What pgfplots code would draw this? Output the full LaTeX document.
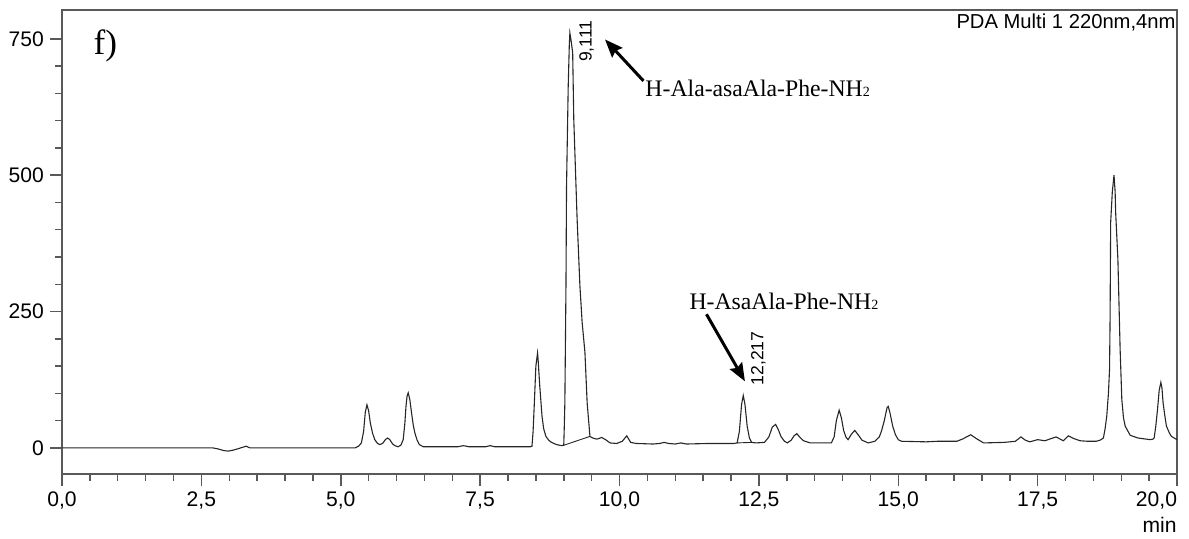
\documentclass[border=0pt]{standalone}
\usepackage{fontspec}
\setmainfont{Liberation Sans}
\newfontfamily\tnr{Liberation Serif}
\usepackage{pgfplots}
\pgfplotsset{compat=1.18}
\usetikzlibrary{arrows.meta}

% chromatogram trace, PDA 220 nm (time in min, signal in mAU)
\pgfplotstableread{
t v
0.00 0
2.70 0
2.80 -2
2.90 -5
2.98 -6
3.08 -4
3.18 -1
3.30 3
3.37 0
5.26 0
5.32 3
5.37 9
5.41 30
5.44 65
5.47 79
5.50 68
5.53 46
5.57 27
5.61 15
5.66 8
5.70 6
5.75 8
5.80 15
5.84 18
5.88 15
5.93 7
5.97 4
6.03 2
6.08 5
6.12 15
6.15 45
6.17 76
6.19 95
6.21 101
6.24 88
6.27 64
6.30 42
6.33 27
6.37 14
6.41 6
6.48 2
7.10 2
7.20 4
7.30 2
7.60 2
7.68 4
7.76 2
8.40 2
8.43 3
8.45 30
8.47 76
8.50 150
8.53 174
8.54 162
8.57 113
8.61 58
8.64 35
8.68 21
8.73 14
8.78 10
8.87 6
8.96 4
9.00 5
9.01 40
9.02 83
9.04 300
9.05 480
9.08 663
9.10 740
9.11 761
9.13 748
9.16 725
9.18 602
9.21 510
9.24 419
9.29 297
9.33 230
9.38 175
9.42 82
9.47 21
9.50 19
9.55 17
9.60 16
9.68 19
9.75 15
9.83 9
9.95 8
10.05 12
10.13 22
10.20 10
10.30 8
10.60 7
10.72 8
10.80 10
10.88 8
11.00 7
11.10 9
11.20 7
11.60 8
12.05 8
12.11 9
12.15 30
12.19 80
12.22 96
12.25 80
12.29 40
12.33 18
12.37 10
12.45 9
12.60 10
12.68 20
12.74 38
12.80 43
12.85 33
12.90 20
12.96 12
13.01 9
13.08 14
13.13 22
13.18 26
13.23 20
13.30 13
13.42 9
13.80 9
13.85 20
13.89 50
13.94 69
13.98 55
14.02 32
14.06 20
14.10 15
14.16 25
14.22 32
14.28 24
14.35 14
14.46 9
14.58 12
14.66 20
14.70 31
14.75 50
14.80 74
14.82 76
14.85 65
14.90 40
14.95 24
15.00 15
15.06 12
15.50 11
15.70 12
16.05 12
16.15 16
16.30 24
16.40 17
16.53 9
16.90 10
17.10 12
17.20 20
17.28 14
17.36 11
17.50 15
17.63 13
17.83 20
17.96 13
18.05 22
18.15 17
18.26 13
18.40 12
18.55 12
18.62 14
18.68 18
18.71 35
18.74 58
18.77 100
18.79 144
18.80 241
18.81 413
18.84 470
18.87 500
18.89 470
18.90 431
18.94 345
18.98 180
19.01 89
19.04 55
19.07 40
19.16 23
19.30 18
19.52 15
19.57 16
19.59 18
19.62 40
19.65 70
19.68 105
19.71 120
19.73 110
19.75 83
19.78 60
19.81 40
19.86 28
19.90 21
20.00 15
}\trace

\begin{document}
\begin{tikzpicture}
\begin{axis}[
    scale only axis,
    width=223mm, height=92.8mm,
    xmin=0, xmax=20, ymin=-48, ymax=803,
    xtick={0,2.5,...,20},
    xticklabels={{0,0},{2,5},{5,0},{7,5},{10,0},{12,5},{15,0},{17,5},{\llap{20,0}}},
    ytick={0,250,500,750},
    minor x tick num=4,
    minor y tick num=4,
    tick align=outside,
    xtick pos=bottom, ytick pos=left,
    major tick length=2.4mm,
    minor tick length=1.3mm,
    every tick/.style={draw=black!65, line width=0.3mm},
    axis line style={draw=black!65, line width=0.4mm},
    ticklabel style={font=\fontsize{12}{14}\selectfont},
    /pgf/number format/assume math mode=true,
    clip=false,
]
\addplot[black!85, line width=0.22mm, mark=none] table[x=t, y=v] {\trace};
% integration baselines
\addplot[black!85, line width=0.18mm] coordinates {(8.98,4) (9.47,21)};
\addplot[black!85, line width=0.18mm] coordinates {(12.11,9) (12.37,10)};

% peak retention times
\node[rotate=90, anchor=west, inner sep=0pt, font=\fontsize{10}{12}\selectfont] at (axis cs:9.41,707) {9,111};
\node[rotate=90, anchor=west, inner sep=0pt, font=\fontsize{10}{12}\selectfont] at (axis cs:12.49,114) {12,217};

% annotations
\draw[black, line width=0.6mm, -{Stealth[length=3.6mm, width=2.8mm, inset=0.5mm]}]
    (axis cs:10.43,673) -- (axis cs:9.74,749);
\node[anchor=base west, inner sep=0pt, font=\tnr\fontsize{13.5}{15}\selectfont]
    at (axis cs:10.46,645) {H-Ala-asaAla-Phe-NH{\fontsize{8}{9}\selectfont 2}};
\draw[black, line width=0.6mm, -{Stealth[length=3.6mm, width=2.8mm, inset=0.5mm]}]
    (axis cs:11.56,245) -- (axis cs:12.25,122);
\node[anchor=base west, inner sep=0pt, font=\tnr\fontsize{13.5}{15}\selectfont]
    at (axis cs:11.25,254) {H-AsaAla-Phe-NH{\fontsize{8}{9}\selectfont 2}};

\node[anchor=base west, inner sep=0pt, font=\tnr\fontsize{20}{22}\selectfont]
    at (axis cs:0.56,722) {f)};
\node[anchor=base east, inner sep=0pt, font=\fontsize{11.5}{13}\selectfont]
    at (axis cs:19.98,769) {PDA Multi 1 220nm,4nm};
\node[anchor=base east, inner sep=0pt, font=\fontsize{12}{14}\selectfont]
    at ([yshift=-11.6mm]rel axis cs:1,0) {min};
\end{axis}
\pgfresetboundingbox
\path ([shift={(-12.4mm,-12.8mm)}]current axis.south west) rectangle ([shift={(2.4mm,2mm)}]current axis.north east);
\end{tikzpicture}
\end{document}
